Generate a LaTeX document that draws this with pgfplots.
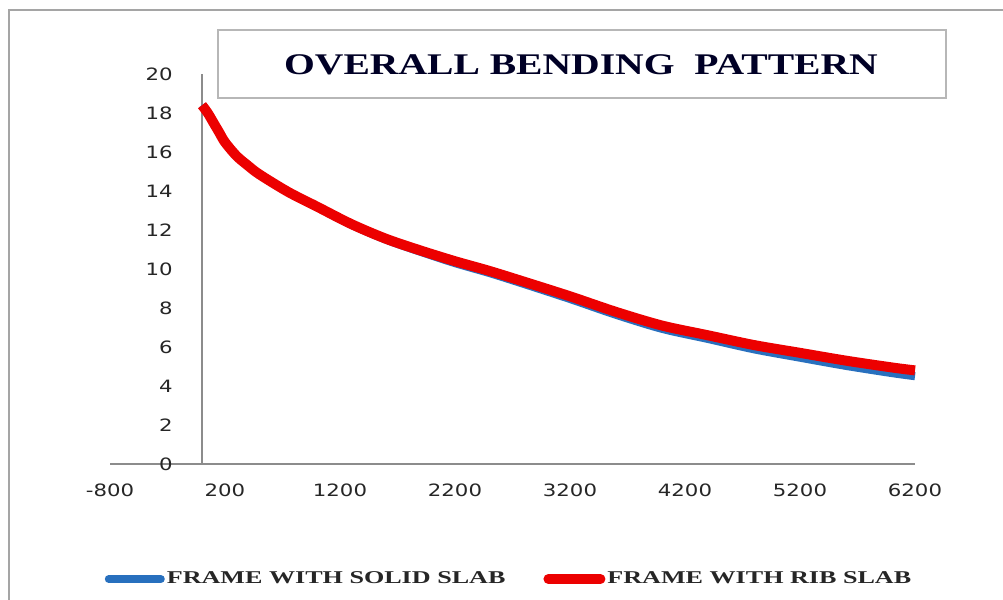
\documentclass[border=0pt]{standalone}
\usepackage{fontspec}
\usepackage{pgfplots}
\pgfplotsset{compat=1.18}
\newfontfamily\tickfont[FakeStretch=1.25]{DejaVu Sans}
\newfontfamily\titlefont[FakeStretch=1.32]{Liberation Serif}
\newfontfamily\legendfont[FakeStretch=1.45]{Liberation Serif}
\definecolor{solidblue}{RGB}{40,112,190}
\definecolor{ribred}{RGB}{236,0,0}
\definecolor{framegray}{RGB}{165,165,165}

\pgfplotstableread{
x y
0 18.4
50 18.0
100 17.5
150 17.0
200 16.5
300 15.8
400 15.3
500 14.83
750 13.93
1000 13.17
1300 12.26
1600 11.5
1900 10.88
2200 10.3
2500 9.79
2800 9.23
3200 8.46
3600 7.65
4000 6.93
4400 6.41
4800 5.88
5200 5.45
5600 5.03
6000 4.66
6200 4.5
}\solidslab

\pgfplotstableread{
x y
0 18.4
50 18.0
100 17.5
150 17.0
200 16.5
300 15.8
400 15.3
500 14.85
750 13.95
1000 13.2
1300 12.3
1600 11.55
1900 10.95
2200 10.4
2500 9.9
2800 9.35
3200 8.6
3600 7.8
4000 7.1
4400 6.6
4800 6.1
5200 5.7
5600 5.3
6000 4.95
6200 4.8
}\ribslab

\begin{document}
\begin{tikzpicture}
\useasboundingbox (0,0) rectangle (501.5pt,300pt);
\fill[white] (0,0) rectangle (501.5pt,300pt);
% chart area frame (left and top edges)
\draw[framegray, line width=1.2pt] (4.5pt,0) -- (4.5pt,295pt) -- (501.5pt,295pt);
% title box
\draw[framegray!80, line width=1pt] (109pt,251pt) rectangle (473pt,285pt);
\node[font=\titlefont\bfseries\fontsize{15}{18}\selectfont, text=black!85!blue]
  at (290.5pt,267.5pt) {OVERALL BENDING~~PATTERN};

\begin{axis}[
  at={(55pt,68pt)}, anchor=south west,
  scale only axis, width=402.5pt, height=195pt,
  xmin=-800, xmax=6200, ymin=0, ymax=20,
  axis x line=bottom, axis y line=left,
  axis line style={-, draw=black!45, line width=1pt},
  y axis line style={draw=none},
  major tick length=0pt,
  xtick={-800,200,1200,2200,3200,4200,5200,6200},
  xticklabels={-800,200,1200,2200,3200,4200,5200,6200},
  ytick={0,2,...,20},
  yticklabels={0,2,4,6,8,10,12,14,16,18,20},
  ticklabel style={font=\tickfont\fontsize{8.5}{10}\selectfont, text=black!85},
  xticklabel style={anchor=center, inner sep=0pt, yshift=-13pt},
  yticklabel style={anchor=east, inner sep=0pt, xshift=31.5pt},
  clip=false,
  legend columns=2,
  legend style={draw=none, fill=none, at={(0.4957,-0.295)}, anchor=center,
    font=\legendfont\bfseries\fontsize{9}{11}\selectfont, text=black!85,
    /tikz/every even column/.append style={column sep=18pt},
    nodes={inner sep=1pt}, inner sep=0pt},
  legend image code/.code={\draw[#1, line cap=round] (0pt,0pt) -- (26pt,0pt);},
  legend cell align=left,
]
% vertical axis line through x = 0
\draw[black!45, line width=1pt] (axis cs:0,0) -- (axis cs:0,20);
\addplot[solidblue, line width=4pt, smooth] table {\solidslab};
\addlegendentry{FRAME WITH SOLID SLAB}
\addplot[ribred, line width=5pt, smooth] table {\ribslab};
\addlegendentry{FRAME WITH RIB SLAB}
\end{axis}
\end{tikzpicture}
\end{document}
